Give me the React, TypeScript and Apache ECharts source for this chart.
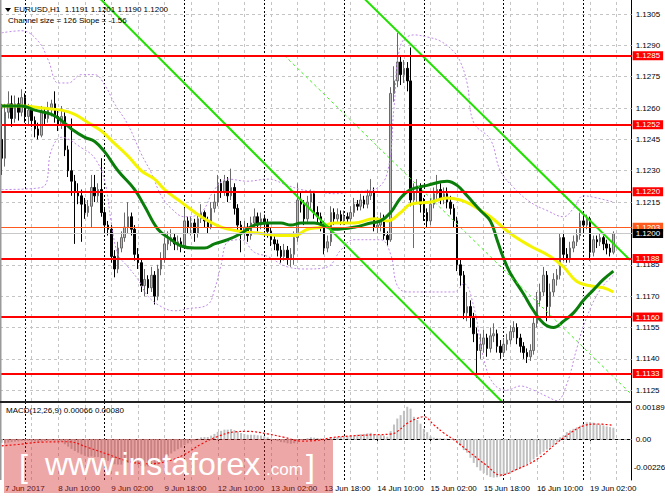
import React, { useEffect, useRef } from "react";
import * as echarts from "echarts";

// ---------- data ----------
const firstOpen = 1.1245;
const closes = [
  1.1236, 1.1258, 1.1262, 1.1255, 1.1262, 1.1258, 1.1265, 1.1256, 1.1259, 1.1254,
  1.1250, 1.1247, 1.1258, 1.1255, 1.1260, 1.1262, 1.1256, 1.1252, 1.1256, 1.1240,
  1.1230, 1.1225, 1.1220, 1.1218, 1.1214, 1.1210, 1.1213, 1.1222, 1.1218, 1.1221,
  1.1210, 1.1204, 1.1202, 1.1189, 1.1183, 1.1193, 1.1198, 1.1203, 1.1208, 1.1202,
  1.1190, 1.1186, 1.1175, 1.1178, 1.1174, 1.1180, 1.1170, 1.1183, 1.1188, 1.1195,
  1.1197, 1.1198, 1.1195, 1.1196, 1.1194, 1.1206, 1.1203, 1.1205, 1.1200, 1.1207,
  1.1210, 1.1206, 1.1203, 1.1212, 1.1215, 1.1224, 1.1220, 1.1225, 1.1218, 1.1222,
  1.1212, 1.1204, 1.1200, 1.1203, 1.1199, 1.1205, 1.1208, 1.1204, 1.1207, 1.1205,
  1.1201, 1.1197, 1.1195, 1.1192, 1.1189, 1.1192, 1.1188, 1.1190, 1.1198, 1.1216,
  1.1214, 1.1207, 1.1215, 1.1219, 1.1210, 1.1208, 1.1204, 1.1193, 1.1196, 1.1210,
  1.1207, 1.1209, 1.1206, 1.1208, 1.1207, 1.1210, 1.1214, 1.1213, 1.1216, 1.1214,
  1.1218, 1.1220, 1.1203, 1.1204, 1.1207, 1.1199, 1.1197, 1.1267, 1.1273, 1.1282,
  1.1276, 1.1279, 1.1273, 1.1216, 1.1220, 1.1222, 1.1214, 1.1210, 1.1206, 1.1214,
  1.1219, 1.1221, 1.1217, 1.1219, 1.1215, 1.1212, 1.1206, 1.1185, 1.1180, 1.1162,
  1.1165, 1.1160, 1.1152, 1.1144, 1.1147, 1.1150, 1.1145, 1.1151, 1.1152, 1.1146,
  1.1143, 1.1147, 1.1149, 1.1153, 1.1155, 1.1150, 1.1146, 1.1143, 1.1141, 1.1144,
  1.1157, 1.1168, 1.1172, 1.1180, 1.1165, 1.1172, 1.1178, 1.1180, 1.1198, 1.1190,
  1.1188, 1.1193, 1.1196, 1.1199, 1.1206, 1.1204, 1.1207, 1.1191, 1.1197, 1.1196,
  1.1198, 1.1195, 1.1193, 1.1191, 1.1200,
];
const highs = [
  1.1262, 1.1262, 1.1268, 1.1266, 1.1266, 1.1265, 1.1269, 1.1267, 1.1262, 1.1261,
  1.1256, 1.1253, 1.1261, 1.1260, 1.1263, 1.1264, 1.1268, 1.1259, 1.1261, 1.1258,
  1.1242, 1.1255, 1.1228, 1.1224, 1.1221, 1.1217, 1.1216, 1.1228, 1.1228, 1.1224,
  1.1236, 1.1212, 1.1206, 1.1204, 1.1192, 1.1196, 1.1201, 1.1210, 1.1215, 1.1210,
  1.1204, 1.1193, 1.1188, 1.1183, 1.1180, 1.1184, 1.1182, 1.1185, 1.1191, 1.1198,
  1.1201, 1.1202, 1.1200, 1.1199, 1.1198, 1.1212, 1.1208, 1.1208, 1.1207, 1.1209,
  1.1214, 1.1211, 1.1208, 1.1215, 1.1219, 1.1228, 1.1226, 1.1228, 1.1227, 1.1231,
  1.1224, 1.1214, 1.1206, 1.1206, 1.1205, 1.1208, 1.1212, 1.1210, 1.1210, 1.1209,
  1.1207, 1.1203, 1.1199, 1.1197, 1.1194, 1.1195, 1.1194, 1.1193, 1.1201, 1.1224,
  1.1220, 1.1216, 1.1218, 1.1221, 1.1220, 1.1213, 1.1210, 1.1206, 1.1199, 1.1213,
  1.1212, 1.1212, 1.1211, 1.1211, 1.1210, 1.1213, 1.1217, 1.1216, 1.1219, 1.1218,
  1.1221, 1.1226, 1.1222, 1.1208, 1.1210, 1.1209, 1.1201, 1.1270, 1.1280, 1.1296,
  1.1285, 1.1283, 1.1282, 1.1289, 1.1224, 1.1226, 1.1224, 1.1217, 1.1212, 1.1217,
  1.1222, 1.1228, 1.1224, 1.1222, 1.1222, 1.1218, 1.1214, 1.1208, 1.1188, 1.1182,
  1.1172, 1.1168, 1.1162, 1.1155, 1.1152, 1.1154, 1.1152, 1.1155, 1.1157, 1.1154,
  1.1149, 1.1150, 1.1152, 1.1156, 1.1158, 1.1157, 1.1152, 1.1148, 1.1145, 1.1147,
  1.1160, 1.1172, 1.1176, 1.1184, 1.1182, 1.1176, 1.1181, 1.1183, 1.1200, 1.1200,
  1.1193, 1.1196, 1.1199, 1.1202, 1.1210, 1.1208, 1.1209, 1.1208, 1.1199, 1.1199,
  1.1200, 1.1199, 1.1197, 1.1195, 1.1201,
];
const lows = [
  1.1228, 1.1232, 1.1255, 1.1251, 1.1253, 1.1254, 1.1256, 1.1253, 1.1252, 1.1251,
  1.1246, 1.1245, 1.1246, 1.1252, 1.1253, 1.1256, 1.1253, 1.1249, 1.1250, 1.1237,
  1.1227, 1.1218, 1.1195, 1.1214, 1.1196, 1.1207, 1.1208, 1.1203, 1.1215, 1.1215,
  1.1208, 1.1201, 1.1199, 1.1186, 1.1179, 1.1181, 1.1191, 1.1196, 1.1200, 1.1199,
  1.1187, 1.1183, 1.1172, 1.1170, 1.1171, 1.1172, 1.1166, 1.1168, 1.1180, 1.1186,
  1.1192, 1.1194, 1.1192, 1.1192, 1.1191, 1.1193, 1.1200, 1.1199, 1.1196, 1.1198,
  1.1205, 1.1203, 1.1200, 1.1202, 1.1210, 1.1213, 1.1217, 1.1218, 1.1215, 1.1216,
  1.1209, 1.1201, 1.1191, 1.1197, 1.1196, 1.1197, 1.1203, 1.1201, 1.1202, 1.1202,
  1.1198, 1.1194, 1.1192, 1.1189, 1.1186, 1.1187, 1.1185, 1.1184, 1.1185, 1.1196,
  1.1210, 1.1204, 1.1205, 1.1212, 1.1207, 1.1205, 1.1201, 1.1190, 1.1191, 1.1194,
  1.1204, 1.1205, 1.1204, 1.1204, 1.1205, 1.1205, 1.1208, 1.1211, 1.1211, 1.1212,
  1.1212, 1.1216, 1.1201, 1.1200, 1.1201, 1.1197, 1.1194, 1.1196, 1.1263, 1.1270,
  1.1271, 1.1272, 1.1268, 1.1213, 1.1193, 1.1215, 1.1210, 1.1206, 1.1203, 1.1204,
  1.1212, 1.1216, 1.1214, 1.1214, 1.1212, 1.1209, 1.1203, 1.1182, 1.1175, 1.1159,
  1.1158, 1.1155, 1.1148, 1.1131, 1.1140, 1.1143, 1.1141, 1.1143, 1.1148, 1.1143,
  1.1140, 1.1141, 1.1144, 1.1147, 1.1150, 1.1147, 1.1143, 1.1140, 1.1138, 1.1139,
  1.1142, 1.1155, 1.1165, 1.1170, 1.1158, 1.1160, 1.1170, 1.1175, 1.1178, 1.1187,
  1.1186, 1.1186, 1.1191, 1.1194, 1.1197, 1.1201, 1.1202, 1.1187, 1.1189, 1.1193,
  1.1194, 1.1192, 1.1190, 1.1189, 1.1190,
];

// moving averages, [bar, price]
const maFast = [
  [0, 1.1261], [6, 1.1261], [10, 1.1259], [15, 1.1257], [18, 1.1254], [21, 1.125], [25, 1.1246],
  [28, 1.1244], [31, 1.1239], [35, 1.123], [40, 1.1221], [43, 1.1213], [47, 1.1202], [51, 1.1197],
  [54, 1.1194], [58, 1.1193], [61, 1.1193], [64, 1.1195], [68, 1.1197], [72, 1.12], [76, 1.1204],
  [80, 1.1205], [84, 1.1205], [87, 1.1204], [90, 1.1205], [94, 1.1205], [98, 1.1203], [100, 1.1202],
  [106, 1.1203], [111, 1.1205], [114, 1.1206], [117, 1.121], [120, 1.1217], [123, 1.1221],
  [128, 1.1223], [134, 1.1225], [137, 1.1223], [140, 1.1218], [144, 1.1211], [147, 1.1206],
  [149, 1.1197], [151, 1.1188], [153, 1.1181], [157, 1.1171], [160, 1.1163], [163, 1.1157],
  [166, 1.1155], [169, 1.1158], [172, 1.1162], [175, 1.1168], [178, 1.1173], [181, 1.1178], [184, 1.1182],
];
const maSlow = [
  [0, 1.1261], [6, 1.1261], [12, 1.126], [18, 1.1259], [22, 1.1257], [26, 1.1253], [30, 1.1249],
  [34, 1.1243], [38, 1.1237], [42, 1.123], [46, 1.1226], [49, 1.1221], [54, 1.1215], [60, 1.1208],
  [66, 1.1203], [72, 1.1201], [78, 1.12], [84, 1.1199], [88, 1.1199], [92, 1.1202], [96, 1.1203],
  [100, 1.1205], [106, 1.1205], [112, 1.1207], [116, 1.1206], [120, 1.121], [123, 1.1214],
  [129, 1.1215], [134, 1.1217], [138, 1.1216], [141, 1.1214], [144, 1.1211], [147, 1.1208],
  [153, 1.12], [159, 1.1194], [165, 1.1189], [169, 1.1184], [173, 1.1177], [177, 1.1175],
  [181, 1.1174], [184, 1.1172],
];
const bandUpper = [
  [0, 1.1296], [6, 1.1297], [11, 1.1292], [14, 1.1283], [17, 1.1272], [20, 1.1272], [24, 1.1276],
  [28, 1.1276], [31, 1.1271], [34, 1.1262], [38, 1.1252], [42, 1.1238], [45, 1.1229], [48, 1.1218],
  [51, 1.1212], [55, 1.1208], [60, 1.121], [64, 1.1221], [68, 1.1226], [74, 1.1225], [80, 1.1226],
  [86, 1.1223], [90, 1.1221], [95, 1.122], [100, 1.1219], [106, 1.122], [112, 1.1221], [116, 1.1229],
  [118, 1.126], [120, 1.129], [124, 1.1295], [128, 1.1294], [132, 1.1292], [136, 1.1287],
  [138, 1.1282], [140, 1.1272], [142, 1.1253], [147, 1.1245], [150, 1.123], [154, 1.1222],
  [159, 1.1215], [164, 1.1211], [169, 1.1208], [172, 1.1212], [175, 1.1218], [179, 1.1217], [184, 1.1215],
];
const bandLower = [
  [0, 1.1221], [12, 1.1222], [15, 1.124], [18, 1.1246], [24, 1.1241], [28, 1.1236], [31, 1.1225],
  [33, 1.1205], [35, 1.119], [38, 1.1184], [41, 1.1178], [44, 1.117], [48, 1.1165], [52, 1.1163],
  [56, 1.1164], [62, 1.1166], [64, 1.1173], [66, 1.1185], [68, 1.1196], [72, 1.1197], [76, 1.1191],
  [80, 1.1189], [86, 1.1184], [92, 1.1183], [98, 1.1184], [102, 1.1192], [106, 1.1197], [114, 1.1197],
  [117, 1.119], [119, 1.1175], [122, 1.1172], [136, 1.1172], [139, 1.1176], [142, 1.1165],
  [145, 1.114], [148, 1.1128], [152, 1.1125], [156, 1.1127], [160, 1.1125], [164, 1.1122],
  [167, 1.112], [170, 1.1128], [173, 1.1145], [176, 1.116], [180, 1.1173], [184, 1.118],
];

// regression channel, [bar, price] end points
const channelLower = [[28, 1.13149], [152, 1.111711]];
const channelUpper = [[108, 1.131404], [189, 1.11873]];
const channelMid = [[85, 1.128524], [189, 1.112366]];

const priceTicks = [
  1.1305, 1.129, 1.1275, 1.126, 1.1245, 1.123, 1.1215, 1.12, 1.1185, 1.117, 1.1155, 1.114, 1.1125,
];
const priceMin = 1.111983;
const priceMax = 1.13117;
const levels = [1.1285, 1.1252, 1.122, 1.1188, 1.116, 1.1133];
const askPrice = 1.1203;
const bidPrice = 1.12;

// MACD(12,26,9) main line per bar and signal line
const macd = [
  -0.00022, -0.00025, -0.0002, -0.00018, -0.00015, -0.00014, -0.00012, -0.00012, -0.0001, -0.00012,
  -0.00015, -0.00017, -0.00015, -0.00012, -0.0001, -0.00008, -0.0001, -0.00013, -0.00016, -0.0003,
  -0.00045, -0.00058, -0.0007, -0.0008, -0.0009, -0.00098, -0.00104, -0.00102, -0.00105, -0.00106,
  -0.00112, -0.0012, -0.00128, -0.00138, -0.00148, -0.0015, -0.0015, -0.00146, -0.0014, -0.0014,
  -0.00145, -0.0015, -0.00158, -0.0016, -0.0016, -0.00156, -0.00158, -0.00148, -0.00135, -0.00118,
  -0.001, -0.00085, -0.00072, -0.0006, -0.0005, -0.00035, -0.00025, -0.00015, -0.00008, 0.00002,
  0.0001, 0.00012, 0.00012, 0.0002, 0.0003, 0.00042, 0.00048, 0.00055, 0.00055, 0.00058,
  0.00052, 0.00042, 0.00035, 0.0003, 0.00025, 0.00025, 0.00025, 0.00022, 0.0002, 0.00016,
  0.0001, 0.00002, -0.00005, -0.00012, -0.00018, -0.0002, -0.00025, -0.00028, -0.00025, -0.00012,
  -0.00005, -0.00002, 0.00005, 0.0001, 0.00008, 0.00006, 0.00004, 0.0, 0.00002, 0.00008,
  0.0001, 0.00012, 0.00014, 0.00016, 0.00018, 0.0002, 0.00024, 0.00026, 0.00028, 0.0003,
  0.00033, 0.00036, 0.0003, 0.00026, 0.00024, 0.0002, 0.00014, 0.00046, 0.00085, 0.0012,
  0.0014, 0.00165, 0.00189, 0.00178, 0.0013, 0.00112, 0.0009, 0.0006, 0.0004, 0.00015,
  0.00008, 0.00005, 0.00004, 0.00003, 0.00002, 0.0, -0.00005, -0.0002, -0.0004, -0.00065,
  -0.0008, -0.0011, -0.0014, -0.00165, -0.00185, -0.002, -0.00212, -0.00222, -0.00226, -0.00224,
  -0.0022, -0.00212, -0.00205, -0.00196, -0.00188, -0.0018, -0.0017, -0.0016, -0.00148, -0.00135,
  -0.0012, -0.00105, -0.0009, -0.00075, -0.00062, -0.0005, -0.00035, -0.0002, 0.0001, 0.00022,
  0.0004, 0.0005, 0.0006, 0.00068, 0.00078, 0.00088, 0.00098, 0.001, 0.00096, 0.0009,
  0.00085, 0.0008, 0.00074, 0.0007, 0.00066,
];
const signal = [
  [0, -0.0004], [6, -0.0003], [12, -0.00018], [20, -0.00016], [26, -0.0005], [32, -0.0009],
  [38, -0.0013], [44, -0.00145], [50, -0.0013], [55, -0.0009], [60, -0.0003], [65, 0.00015],
  [70, 0.00042], [74, 0.00045], [80, 0.0003], [85, 0.0001], [90, -0.00012], [95, -0.00008],
  [99, 0.00008], [105, 0.00018], [112, 0.00025], [117, 0.00029], [119, 0.00044], [122, 0.00092],
  [125, 0.00121], [127, 0.00131], [130, 0.00083], [133, 0.00035], [136, -0.00004], [141, -0.00081],
  [146, -0.00157], [150, -0.00211], [155, -0.00177], [161, -0.00119], [167, -0.00023],
  [171, 0.00035], [175, 0.00077], [179, 0.00088], [184, 0.0008],
];
const macdTop = 0.00189;
const macdBottom = -0.00226;

const labelBars = [1, 17, 33, 49, 65, 81, 97, 113, 129, 145, 161, 177];
const labelTexts = [
  "7 Jun 2017", "8 Jun 10:00", "9 Jun 02:00", "9 Jun 18:00", "12 Jun 10:00", "13 Jun 02:00",
  "13 Jun 18:00", "14 Jun 10:00", "15 Jun 02:00", "15 Jun 18:00", "16 Jun 10:00", "19 Jun 02:00",
];
const gridBars = [9, 17, 25, 33, 41, 49, 57, 65, 73, 81, 89, 97, 105, 113, 121, 129, 137, 145, 153, 161, 169, 177, 185];
const dayBars = [7, 31, 55, 79, 103, 127, 151, 175];

const headerText = "EURUSD,H1  1.1191 1.1201 1.1190 1.1200";
const channelText = "Channel size = 126 Slope = -1.56";
const macdText = "MACD(12,26,9) 0.00066 0.00080";

// ---------- chart ----------
const NCAT = 190;
const FONT = "Liberation Sans";

function buildOption() {
  const cats = Array.from({ length: NCAT }, (_, i) => String(i));
  const candles = closes.map((c, i) => {
    const o = i === 0 ? firstOpen : closes[i - 1];
    return [o, c, lows[i], highs[i]];
  });
  const isLabel = (i: number) => labelBars.indexOf(i) >= 0;

  const vGrid = (xi: number, yi: number) => [
    {
      type: "line", xAxisIndex: xi, yAxisIndex: yi, data: [], silent: true, z: 1,
      markLine: {
        silent: true, symbol: ["none", "none"], z: 1, label: { show: false },
        lineStyle: { color: "#c4c4c4", type: [3, 3], width: 1 },
        data: gridBars.map((b) => ({ xAxis: b })),
      },
    },
    {
      type: "line", xAxisIndex: xi, yAxisIndex: yi, data: [], silent: true, z: 1,
      markLine: {
        silent: true, symbol: ["none", "none"], z: 1, label: { show: false },
        lineStyle: { color: "#000", type: [2, 2], width: 1 },
        data: dayBars.map((b) => ({ xAxis: b })),
      },
    },
  ];

  const lvlLabel = (txt: string, bg: string) => ({
    show: true, position: "end", formatter: txt, color: "#fff", backgroundColor: bg,
    padding: [1, 3, 0, 3], fontSize: 8, fontFamily: FONT, distance: 1,
  });
  const tickLabel = (txt: string, show: boolean, dist = 4) => ({
    show, position: "end", formatter: txt, color: "#000", fontSize: 8, fontFamily: FONT, distance: dist,
  });

  return {
    animation: false,
    backgroundColor: "#fff",
    textStyle: { fontFamily: FONT },
    grid: [
      { left: -1.667, top: 0, width: 633.33, height: 401 },
      { left: -1.667, top: 403, width: 633.33, height: 77 },
    ],
    xAxis: [
      {
        type: "category", gridIndex: 0, data: cats, boundaryGap: true,
        axisLabel: { show: false }, axisTick: { show: false },
        axisLine: { show: true, lineStyle: { color: "#000", width: 1 } },
        splitLine: { show: false },
      },
      {
        type: "category", gridIndex: 1, data: cats, boundaryGap: true,
        axisLine: { show: true, lineStyle: { color: "#000", width: 1 } },
        axisTick: { show: true, interval: (i: number) => isLabel(i), alignWithLabel: true, length: 3, lineStyle: { color: "#000" } },
        axisLabel: {
          show: true, interval: (i: number) => isLabel(i),
          formatter: (_v: string, i: number) => {
            const k = labelBars.indexOf(i);
            return k >= 0 ? labelTexts[k] : "";
          },
          align: "left", margin: 4, fontSize: 8, color: "#000", fontFamily: FONT,
        },
        splitLine: { show: false },
      },
    ],
    yAxis: [
      {
        type: "value", gridIndex: 0, position: "right", min: priceMin, max: priceMax,
        axisLine: { show: true, lineStyle: { color: "#000" } },
        axisTick: { show: false }, axisLabel: { show: false }, splitLine: { show: false },
      },
      {
        type: "value", gridIndex: 1, position: "right", min: -0.0024, max: 0.00211,
        axisLine: { show: true, lineStyle: { color: "#000" } },
        axisTick: { show: false }, axisLabel: { show: false }, splitLine: { show: false },
      },
    ],
    series: [
      ...vGrid(0, 0),
      ...vGrid(1, 1),
      {
        // horizontal price grid + right-hand tick labels
        type: "line", xAxisIndex: 0, yAxisIndex: 0, data: [], silent: true, z: 1,
        markLine: {
          silent: true, symbol: ["none", "none"], z: 1, precision: 6,
          lineStyle: { color: "#c4c4c4", type: [3, 3], width: 1 },
          data: priceTicks.map((p) => ({
            yAxis: p,
            label: tickLabel(p.toFixed(4), Math.abs(p - bidPrice) > 0.00005),
          })),
        },
      },
      {
        type: "candlestick", xAxisIndex: 0, yAxisIndex: 0, data: candles, barWidth: 2, z: 2,
        itemStyle: { color: "#b8b8b8", color0: "#000", borderColor: "#6a6a6a", borderColor0: "#000", borderWidth: 1 },
      },
      {
        type: "line", data: bandUpper, smooth: 0.4, showSymbol: false, z: 3, silent: true,
        lineStyle: { color: "#c08ae8", width: 1, type: [2, 2] },
      },
      {
        type: "line", data: bandLower, smooth: 0.4, showSymbol: false, z: 3, silent: true,
        lineStyle: { color: "#c08ae8", width: 1, type: [2, 2] },
      },
      {
        type: "line", data: maSlow, smooth: 0.4, showSymbol: false, z: 4, silent: true,
        lineStyle: { color: "#f4f400", width: 3 },
      },
      {
        type: "line", data: maFast, smooth: 0.4, showSymbol: false, z: 4, silent: true,
        lineStyle: { color: "#0a7d0a", width: 3 },
      },
      {
        type: "line", data: channelLower, showSymbol: false, z: 4, silent: true,
        lineStyle: { color: "#22e000", width: 2 },
      },
      {
        type: "line", data: channelUpper, showSymbol: false, z: 4, silent: true,
        lineStyle: { color: "#22e000", width: 2 },
      },
      {
        type: "line", data: channelMid, showSymbol: false, z: 4, silent: true,
        lineStyle: { color: "#44ee22", width: 1, type: [3, 3] },
      },
      {
        type: "line", xAxisIndex: 0, yAxisIndex: 0, data: [], silent: true, z: 5,
        markLine: {
          silent: true, symbol: ["none", "none"], z: 6, precision: 6,
          data: [
            ...levels.map((p) => ({
              yAxis: p,
              lineStyle: { color: "#ff0000", width: 2, type: "solid" },
              label: lvlLabel(p.toFixed(4), "#ff0000"),
            })),
            {
              yAxis: askPrice,
              lineStyle: { color: "#ff5a1e", width: 1, type: "solid" },
              label: lvlLabel(askPrice.toFixed(4), "#ff5a1e"),
            },
            {
              yAxis: bidPrice,
              lineStyle: { color: "#c8c8c8", width: 1, type: "solid" },
              label: lvlLabel(bidPrice.toFixed(4), "#000000"),
            },
          ],
        },
      },
      {
        type: "bar", xAxisIndex: 1, yAxisIndex: 1, data: macd, barWidth: 2, z: 2, silent: true,
        itemStyle: { color: "#c0c0c0" },
        markLine: {
          silent: true, symbol: ["none", "none"], z: 3, precision: 8,
          data: [
            { yAxis: 0, lineStyle: { color: "#b0b0b0", width: 1, type: [3, 3] }, label: tickLabel("0.00", true) },
            {
              yAxis: macdTop, lineStyle: { color: "rgba(255,255,255,0)", width: 0 },
              label: { ...tickLabel(macdTop.toFixed(5), true), offset: [0, 1] },
            },
            {
              yAxis: macdBottom, lineStyle: { color: "rgba(255,255,255,0)", width: 0 },
              label: { ...tickLabel(macdBottom.toFixed(5), true, 2), offset: [0, -10] },
            },
          ],
        },
      },
      {
        type: "line", xAxisIndex: 1, yAxisIndex: 1, data: signal, smooth: 0.4, showSymbol: false, z: 3, silent: true,
        lineStyle: { color: "#ff0000", width: 1.2, type: [2, 2] },
      },
    ],
    graphic: [
      { type: "rect", shape: { x: 0, y: 0, width: 1.5, height: 480 }, style: { fill: "#9a9a9a" }, z: 10 },
      { type: "rect", shape: { x: 0, y: 401, width: 632, height: 2 }, style: { fill: "#202020" }, z: 10 },
      { type: "polygon", shape: { points: [[5, 8], [11, 8], [8, 12]] }, style: { fill: "#000" }, z: 10 },
      { type: "text", x: 14, y: 5, z: 10, style: { text: headerText, font: `8px "${FONT}"`, fill: "#000" } },
      { type: "text", x: 8, y: 16, z: 10, style: { text: channelText, font: `8px "${FONT}"`, fill: "#000" } },
      { type: "text", x: 6, y: 406, z: 10, style: { text: macdText, font: `8px "${FONT}"`, fill: "#000" } },
      { type: "rect", shape: { x: 4, y: 439, width: 329, height: 54 }, style: { fill: "rgba(215,45,45,0.42)" }, z: 20 },
      { type: "text", x: 19, y: 466, z: 21, style: { text: "[", font: `300 32px "${FONT}"`, fill: "#fff", verticalAlign: "middle" } },
      { type: "text", x: 45, y: 464, z: 21, style: { text: "www.instaforex", font: `32px "${FONT}"`, fill: "#fff", verticalAlign: "middle" } },
      { type: "text", x: 266, y: 469, z: 21, style: { text: ".com", font: `17px "${FONT}"`, fill: "#fff", verticalAlign: "middle" } },
      { type: "text", x: 306, y: 466, z: 21, style: { text: "]", font: `300 32px "${FONT}"`, fill: "#fff", verticalAlign: "middle" } },
    ],
  };
}

export default function App() {
  const ref = useRef<HTMLDivElement>(null);
  useEffect(() => {
    if (!ref.current) return;
    const chart = echarts.init(ref.current, undefined, { renderer: "svg" });
    chart.setOption(buildOption() as any);
    return () => chart.dispose();
  }, []);
  return (
    <div
      ref={ref}
      style={{ position: "fixed", left: 0, top: 0, width: 665, height: 499, background: "#fff" }}
    />
  );
}
